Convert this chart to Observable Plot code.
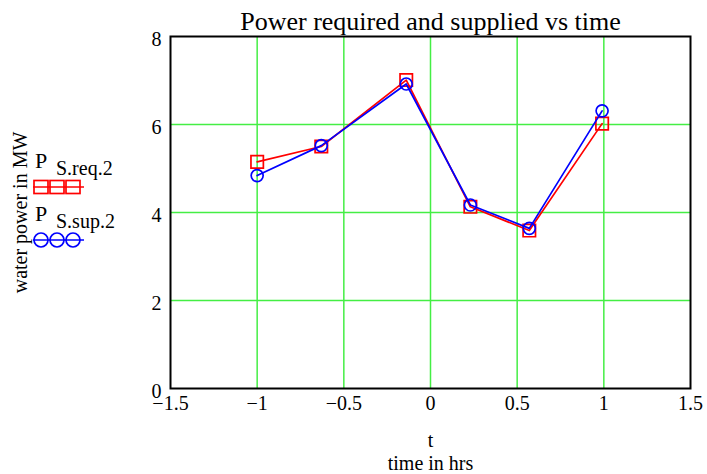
<!DOCTYPE html>
<html>
<head>
<meta charset="utf-8">
<script src="https://cdn.jsdelivr.net/npm/d3@7"></script>
<script src="https://cdn.jsdelivr.net/npm/@observablehq/plot@0.6"></script>
<style>
  html, body { margin: 0; padding: 0; background: #fff; }
  #chart { width: 707px; height: 474px; }
</style>
</head>
<body>
<div id="chart"></div>
<script>
const times = [-1, -0.63, -0.14, 0.23, 0.57, 0.99];
const powerRequired = [5.15, 5.5, 7.01, 4.13, 3.59, 6.02];
const powerSupplied = [4.84, 5.52, 6.92, 4.17, 3.64, 6.31];
const xTicks = [-1.5, -1, -0.5, 0, 0.5, 1, 1.5];
const yTicks = [0, 2, 4, 6, 8];
const titleText = "Power required and supplied vs time";
const xLabel1 = "t";
const xLabel2 = "time in hrs";
const yLabel = "water power in MW";

const req = times.map((t, i) => ({t, p: powerRequired[i]}));
const sup = times.map((t, i) => ({t, p: powerSupplied[i]}));

const serif = "'Liberation Serif', 'Times New Roman', serif";
const grid = "#44ee44";
const fmt = d => (d < 0 ? "\u2212" : "") + String(Math.abs(d));

const plot = Plot.plot({
  width: 707,
  height: 474,
  marginLeft: 170,
  marginRight: 17,
  marginTop: 36,
  marginBottom: 86,
  style: {fontFamily: serif, fontSize: "20px", color: "#000", background: "#fff"},
  x: {domain: [-1.5, 1.5]},
  y: {domain: [0, 8]},
  marks: [
    Plot.gridX(xTicks.slice(1, -1), {stroke: grid, strokeOpacity: 1, strokeWidth: 1.5}),
    Plot.gridY(yTicks.slice(1, -1), {stroke: grid, strokeOpacity: 1, strokeWidth: 1.5}),
    Plot.axisX(xTicks, {tickSize: 0, tickPadding: 7, label: null, fontSize: 20, fill: "#000", tickFormat: fmt}),
    Plot.axisY(yTicks, {tickSize: 0, tickPadding: 9, dy: 3, label: null, fontSize: 20, fill: "#000", tickFormat: fmt}),
    Plot.frame({stroke: "#000", strokeWidth: 2}),
    Plot.line(req, {x: "t", y: "p", stroke: "#ff0000", strokeWidth: 1.7}),
    Plot.dot(req, {x: "t", y: "p", symbol: "square", r: 7, stroke: "#ff0000", strokeWidth: 1.7, fill: "none"}),
    Plot.line(sup, {x: "t", y: "p", stroke: "#0000ff", strokeWidth: 1.7}),
    Plot.dot(sup, {x: "t", y: "p", symbol: "circle", r: 6, stroke: "#0000ff", strokeWidth: 1.7, fill: "none"}),
    Plot.text([titleText], {frameAnchor: "top", dy: -15, fontSize: 26, fill: "#000", lineAnchor: "middle"}),
    Plot.text([xLabel1], {frameAnchor: "bottom", dy: 52, fontSize: 20, fill: "#000", lineAnchor: "middle"}),
    Plot.text([xLabel2], {frameAnchor: "bottom", dy: 75, fontSize: 20, fill: "#000", lineAnchor: "middle"}),
    Plot.text([yLabel], {frameAnchor: "left", dx: -150, rotate: -90, fontSize: 20, fill: "#000", lineAnchor: "middle", textAnchor: "middle"})
  ]
});

document.getElementById("chart").appendChild(plot);

// Legend (Mathcad-style trace labels)
const svg = d3.select(plot);
const lg = svg.append("g").attr("font-family", serif).attr("fill", "#000").attr("text-anchor", "start");
const entries = [
  {sub: "S.req.2", color: "#ff0000", symbol: "square", yText: 160},
  {sub: "S.sup.2", color: "#0000ff", symbol: "circle", yText: 213}
];
entries.forEach(e => {
  lg.append("text").attr("x", 35).attr("y", e.yText).attr("dy", "0.35em").attr("font-size", 22).text("P");
  lg.append("text").attr("x", 56).attr("y", e.yText + 8).attr("dy", "0.35em").attr("font-size", 20).text(e.sub);
  const yS = e.yText + 27;
  lg.append("line").attr("x1", 33).attr("x2", 84).attr("y1", yS).attr("y2", yS)
    .attr("stroke", e.color).attr("stroke-width", 1.7);
  [41, 57, 73].forEach(cx => {
    if (e.symbol === "square") {
      lg.append("rect").attr("x", cx - 7).attr("y", yS - 6.5).attr("width", 14).attr("height", 13)
        .attr("fill", "none").attr("stroke", e.color).attr("stroke-width", 1.7);
    } else {
      lg.append("circle").attr("cx", cx).attr("cy", yS).attr("r", 7)
        .attr("fill", "none").attr("stroke", e.color).attr("stroke-width", 1.7);
    }
  });
});
</script>
</body>
</html>
